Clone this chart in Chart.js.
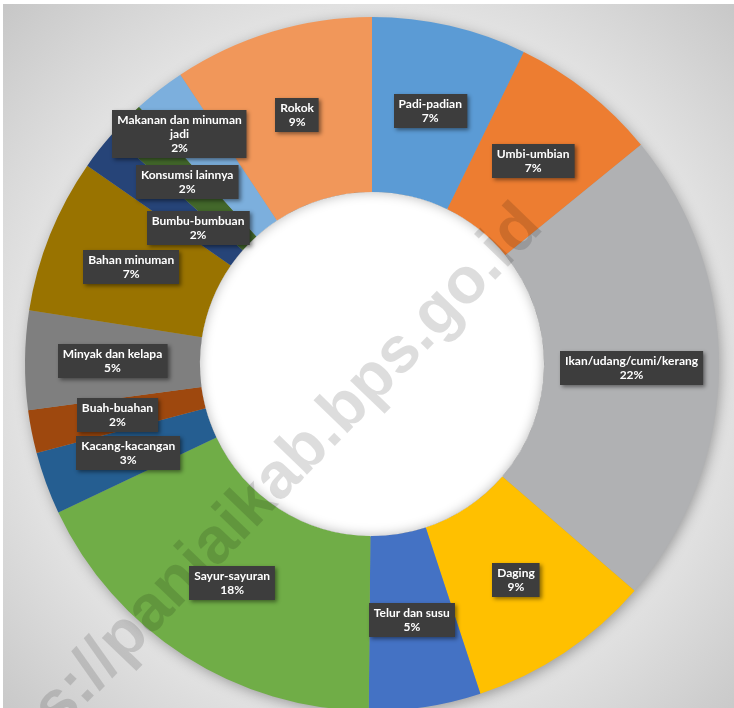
<!DOCTYPE html>
<html lang="id">
<head>
  <meta charset="UTF-8" />
  <title>Komposisi Pengeluaran Makanan</title>
  <script src="https://cdn.jsdelivr.net/npm/chart.js"></script>
  <style>
    html, body {
      margin: 0;
      padding: 0;
      overflow: hidden;
      background: #fff;
    }
    .wrap {
      width: 734px;
      height: 708px;
      overflow: hidden;
      position: relative;
    }
    canvas {
      position: absolute;
      left: 0;
      top: 0;
    }
  </style>
</head>
<body>
  <div class="wrap">
    <canvas id="grafik" width="734" height="728"></canvas>
  </div>

  <script>
    // kelompok komoditas, searah jarum jam mulai dari atas
    const kategori = [
      "Padi-padian", "Umbi-umbian", "Ikan/udang/cumi/kerang", "Daging",
      "Telur dan susu", "Sayur-sayuran", "Kacang-kacangan", "Buah-buahan",
      "Minyak dan kelapa", "Bahan minuman", "Bumbu-bumbuan", "Konsumsi lainnya",
      "Makanan dan minuman jadi", "Rokok"
    ];
    // persentase (perkiraan dari gambar)
    const nilai = [7.2, 6.9, 22.2, 8.6, 5.2, 17.8, 2.9, 2.0, 4.6, 7.2, 1.8, 1.8, 2.4, 9.3];
    const warna = [
      "#5b9bd5", "#ed7d31", "#b0b1b3", "#ffc000", "#4472c4", "#70ad47", "#255e91",
      "#9e480e", "#7f7f7f", "#997300", "#264478", "#43682b", "#7cafdd", "#f1975a"
    ];
    // posisi label di dalam cincin (0 = tepi dalam, 1 = tepi luar) dan geseran sudut (derajat)
    const posisiLabel = [0.5, 0.5, 0.5, 0.5, 0.5, 0.5, 0.5, 0.5, 0.5, 0.5, 0.28, 0.5, 0.73, 0.5];
    const geserSudut = [0, 0, 0, 0, 0, 0, 0, 0, 0, 0, 0, 0, -2.1, 0];
    const watermark = "https://paniaikab.bps.go.id";

    const total = nilai.reduce((a, b) => a + b, 0);

    function bungkusTeks(ctx, teks, maks) {
      const kata = teks.split(" ");
      const baris = [];
      let cur = "";
      kata.forEach(k => {
        const coba = cur ? cur + " " + k : k;
        if (cur && ctx.measureText(coba).width > maks) {
          baris.push(cur);
          cur = k;
        } else {
          cur = coba;
        }
      });
      if (cur) baris.push(cur);
      return baris;
    }

    const latarPlugin = {
      id: "latar",
      beforeDraw(chart) {
        const ctx = chart.ctx;
        const arc = chart.getDatasetMeta(0).data[0];
        ctx.save();
        ctx.fillStyle = "#ffffff";
        ctx.fillRect(0, 0, chart.width, chart.height);
        const g = ctx.createRadialGradient(arc.x, arc.y, 0, arc.x, arc.y, 520);
        g.addColorStop(0, "#f0f0f0");
        g.addColorStop(0.68, "#e2e2e2");
        g.addColorStop(1, "#c6c6c6");
        ctx.fillStyle = g;
        ctx.fillRect(3, 4, chart.width - 3, chart.height - 4);
        ctx.restore();
      },
      beforeDatasetsDraw(chart) {
        const ctx = chart.ctx;
        const arc = chart.getDatasetMeta(0).data[0];
        ctx.save();
        ctx.shadowColor = "rgba(0,0,0,0.35)";
        ctx.shadowBlur = 14;
        ctx.shadowOffsetX = 2;
        ctx.shadowOffsetY = 3;
        ctx.fillStyle = "#999";
        ctx.beginPath();
        ctx.arc(arc.x, arc.y, arc.outerRadius - 1, 0, Math.PI * 2);
        ctx.fill();
        ctx.restore();
        ctx.save();
        ctx.fillStyle = "#ffffff";
        ctx.beginPath();
        ctx.arc(arc.x, arc.y, arc.innerRadius + 1, 0, Math.PI * 2);
        ctx.fill();
        ctx.restore();
      },
      afterDatasetsDraw(chart) {
        const ctx = chart.ctx;
        const meta = chart.getDatasetMeta(0);
        const arc = meta.data[0];

        // bayangan di dalam lubang
        ctx.save();
        ctx.beginPath();
        ctx.arc(arc.x, arc.y, arc.innerRadius, 0, Math.PI * 2);
        ctx.clip();
        ctx.beginPath();
        ctx.rect(arc.x - 600, arc.y - 600, 1200, 1200);
        ctx.arc(arc.x, arc.y, arc.innerRadius, 0, Math.PI * 2, true);
        ctx.shadowColor = "rgba(0,0,0,0.28)";
        ctx.shadowBlur = 12;
        ctx.fillStyle = "#888";
        ctx.fill();
        ctx.restore();

        // watermark
        ctx.save();
        ctx.translate(532, 216);
        ctx.rotate(-46 * Math.PI / 180);
        ctx.font = "700 65px 'Liberation Sans', Arial, sans-serif";
        ctx.textAlign = "right";
        ctx.textBaseline = "middle";
        ctx.fillStyle = "rgba(0,0,0,0.135)";
        ctx.fillText(watermark, 0, 0);
        ctx.restore();

        // label data
        ctx.save();
        ctx.font = "700 12px Lato, 'Open Sans', sans-serif";
        ctx.textAlign = "center";
        ctx.textBaseline = "middle";
        const tinggiBaris = 14;
        meta.data.forEach((el, i) => {
          const tengah = (el.startAngle + el.endAngle) / 2 + geserSudut[i] * Math.PI / 180;
          const r = el.innerRadius + (el.outerRadius - el.innerRadius) * posisiLabel[i];
          const px = el.x + Math.cos(tengah) * r;
          const py = el.y + Math.sin(tengah) * r;
          const baris = bungkusTeks(ctx, kategori[i], 135);
          baris.push(Math.round(nilai[i] / total * 100) + "%");
          const lebar = Math.max(...baris.map(b => ctx.measureText(b).width)) + 10;
          const tinggi = baris.length * tinggiBaris + 6;
          const x0 = Math.round(px - lebar / 2);
          const y0 = Math.round(py - tinggi / 2);

          ctx.save();
          ctx.shadowColor = "rgba(0,0,0,0.45)";
          ctx.shadowBlur = 4;
          ctx.shadowOffsetX = 2;
          ctx.shadowOffsetY = 2;
          ctx.fillStyle = "#3d3d3d";
          ctx.fillRect(x0, y0, lebar, tinggi);
          ctx.restore();

          ctx.fillStyle = "#ffffff";
          baris.forEach((b, j) => {
            ctx.fillText(b, px, y0 + 3 + tinggiBaris * j + tinggiBaris / 2);
          });
        });
        ctx.restore();
      }
    };

    new Chart(document.getElementById("grafik"), {
      type: "doughnut",
      data: {
        labels: kategori,
        datasets: [{
          data: nilai,
          backgroundColor: warna,
          borderWidth: 0
        }]
      },
      options: {
        responsive: false,
        animation: false,
        cutout: "49.6%",
        layout: { padding: { left: 25, right: 15, top: 17, bottom: 17 } },
        plugins: {
          legend: { display: false },
          tooltip: { enabled: false }
        }
      },
      plugins: [latarPlugin]
    });
  </script>
</body>
</html>
